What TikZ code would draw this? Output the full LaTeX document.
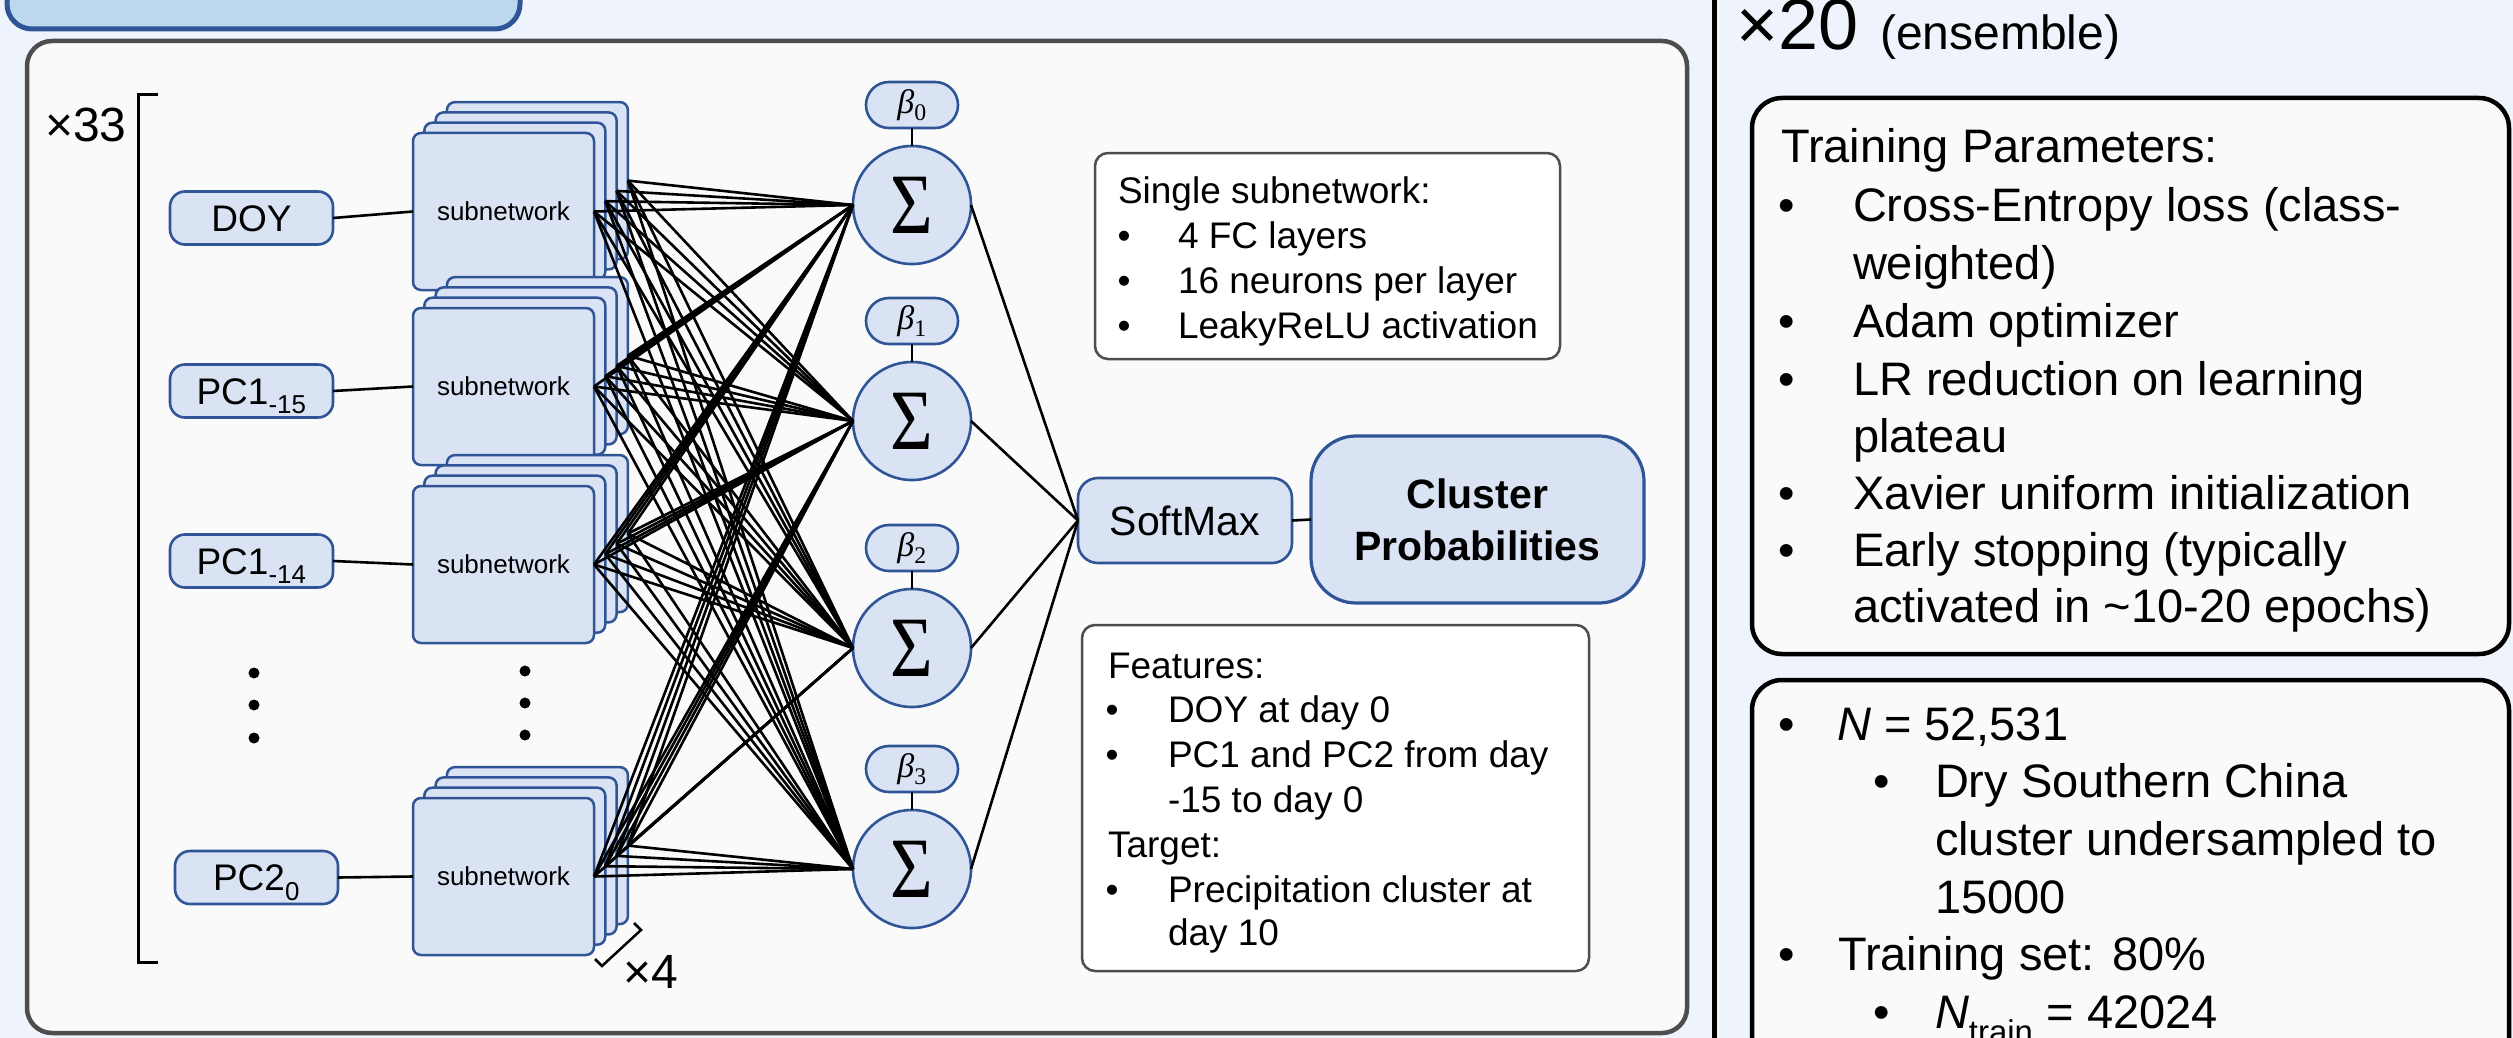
\documentclass[tikz,border=0pt]{standalone}
\usepackage{fontspec}
\setmainfont{Liberation Sans}
\newfontfamily\grserif{Liberation Serif}
\usepackage{graphicx}
\definecolor{bgblue}{HTML}{EFF4FC}
\definecolor{panelfill}{HTML}{FAFAFA}
\definecolor{nfill}{HTML}{DAE3F3}
\definecolor{nborder}{HTML}{2F5597}
\definecolor{topfill}{HTML}{BDD7EE}
\definecolor{pborder}{HTML}{4D4D4D}
\begin{document}
\begin{tikzpicture}[x=1pt,y=-1pt,
  inbox/.style={draw=nborder, fill=nfill, line width=2.6pt, rounded corners=15pt, minimum width=163pt, minimum height=53pt, inner sep=0pt, outer sep=0pt, text height=26.5pt, text depth=0pt, font=\fontsize{37}{44}\selectfont},
  layerbox/.style={draw=nborder, fill=nfill, line width=2.5pt, rounded corners=8pt, minimum width=181pt, minimum height=157pt, inner sep=0pt, outer sep=0pt, font=\fontsize{26}{30}\selectfont},
  sigmanode/.style={circle, draw=nborder, fill=nfill, line width=2.6pt, minimum size=118pt, inner sep=0pt, outer sep=0pt, font=\fontsize{86}{86}\selectfont\grserif},
  betanode/.style={draw=nborder, fill=nfill, line width=2.6pt, rounded corners=22.9pt, minimum width=92pt, minimum height=46pt, inner sep=0pt, outer sep=0pt, font=\fontsize{34}{34}\selectfont\grserif},
  conn/.style={line width=2.6pt, black},
  txt/.style={anchor=base west, inner sep=0pt, outer sep=0pt},
  ib/.style={txt, font=\fontsize{37}{45}\selectfont},
  tb/.style={txt, font=\fontsize{47}{57.5}\selectfont},
  bigtxt/.style={txt, font=\fontsize{48}{48}\selectfont}
]
\useasboundingbox (0,0) rectangle (2513,1038);
\clip (0,0) rectangle (2513,1038);
\fill[bgblue] (0,0) rectangle (2513,1038);

% top-left box (cropped)
\draw[draw=nborder, fill=topfill, line width=5pt, rounded corners=25pt] (7,-60) rectangle (520,29);

% main panel
\draw[draw=pborder, fill=panelfill, line width=4.5pt, rounded corners=25pt] (27,41) rectangle (1687,1033);

% divider
\draw[line width=5pt] (1714.5,-5) -- (1714.5,1045);

% right boxes
\draw[draw=black, fill=panelfill, line width=4.5pt, rounded corners=30pt] (1752,98) rectangle (2509,654);
\draw[draw=black, fill=panelfill, line width=4.5pt, rounded corners=30pt] (1752,680) rectangle (2509,1130);

% info boxes
\draw[draw=pborder, fill=white, line width=2.5pt, rounded corners=13pt] (1095,153) rectangle (1560,359);
\draw[draw=pborder, fill=white, line width=2.5pt, rounded corners=13pt] (1082,625) rectangle (1589,971);

% x33 bracket
\draw[line width=3pt] (158,95) -- (138,95) -- (138,962) -- (158,962);
\node[bigtxt] (x33) at (45,142) {×33};

% dots
\foreach \y in {673,705,738} \fill (254,\y) circle[radius=5.5pt];
\foreach \y in {671,703,735} \fill (525,\y) circle[radius=5.5pt];

% inputs
\node[inbox] (doy) at (251.5,218) {DOY};
\node[inbox] (pca) at (251.5,391) {PC1\textsubscript{-15}};
\node[inbox] (pcb) at (251.5,561) {PC1\textsubscript{-14}};
\node[inbox] (pcc) at (256.5,877.5) {PC2\textsubscript{0}};

% subnetwork stacks
\foreach \s/\cy in {1/211.5, 2/386.5, 3/564.5, 4/876.5} {
  \foreach \l in {3,2,1} {
    \node[layerbox] (L\s\l) at ({503.5+11.3*\l},{\cy-10.3*\l}) {};
  }
  \node[layerbox] (L\s0) at (503.5,\cy) {subnetwork};
}

% x4 bracket
\draw[line width=2.5pt] (595,959) -- (602,966) -- (641,930) -- (634,923);
\node[bigtxt] (x4) at (623,988) {×4};

% sigma and beta nodes
\foreach \k/\y in {0/205, 1/421, 2/648, 3/869} {
  \node[sigmanode] (sig\k) at (912,\y) {\scalebox{0.85}[1]{Σ}};
  \node[betanode] (beta\k) at (912,{\y-100}) {\textit{β}\textsubscript{\k}};
}

% softmax and output
\node[draw=nborder, fill=nfill, line width=2.6pt, rounded corners=20pt, minimum width=214pt, minimum height=85pt, inner sep=0pt, outer sep=0pt, text height=29.5pt, text depth=0pt, font=\fontsize{41}{41}\selectfont] (soft) at (1185,520.5) {SoftMax};
\node[draw=nborder, fill=nfill, line width=3.2pt, rounded corners=45pt, minimum width=333pt, minimum height=167pt, inner sep=0pt, outer sep=0pt, align=center, font=\fontsize{41}{52}\selectfont\bfseries] (clus) at (1477.5,519.5) {Cluster\\Probabilities};

% connectors
\draw[conn] (doy.east) -- (L10.west);
\draw[conn] (pca.east) -- (L20.west);
\draw[conn] (pcb.east) -- (L30.west);
\draw[conn] (pcc.east) -- (L40.west);
\foreach \s in {1,2,3,4} {
  \foreach \l in {0,1,2,3} {
    \foreach \k in {0,1,2,3} {
      \draw[conn] (L\s\l.east) -- (sig\k.west);
    }
  }
}
\foreach \k in {0,1,2,3} {
  \draw[conn] (beta\k.south) -- (sig\k.north);
  \draw[conn] (sig\k.east) -- (soft.west);
}
\draw[conn] (soft.east) -- (clus.west);

% single subnetwork text
\node[ib] (ssh) at (1118,203) {Single subnetwork:};
\node[ib] (ssb1) at (1117.5,248) {\textbullet};
\node[ib] (sst1) at (1178,248) {4 FC layers};
\node[ib] (ssb2) at (1117.5,293) {\textbullet};
\node[ib] (sst2) at (1178,293) {16 neurons per layer};
\node[ib] (ssb3) at (1117.5,338) {\textbullet};
\node[ib] (sst3) at (1178,338) {LeakyReLU activation};

% features text
\node[ib] (ffh) at (1108,678) {Features:};
\node[ib] (ffb1) at (1105.5,722) {\textbullet};
\node[ib] (fft1) at (1168,722) {DOY at day 0};
\node[ib] (ffb2) at (1105.5,767) {\textbullet};
\node[ib] (fft2) at (1168,767) {PC1 and PC2 from day};
\node[ib] (fft3) at (1168,812) {-15 to day 0};
\node[ib] (fth) at (1108,857) {Target:};
\node[ib] (ftb1) at (1105.5,902) {\textbullet};
\node[ib] (ftt1) at (1168,902) {Precipitation cluster at};
\node[ib] (ftt2) at (1168,945) {day 10};

% right panel
\node[txt, font=\fontsize{72}{72}\selectfont] (x20) at (1736,50) {×20};
\node[txt, font=\fontsize{48}{48}\selectfont] (ens) at (1880,50) {(ensemble)};

\node[tb] (tph) at (1781,162) {Training Parameters:};
\node[tb] (tpb1) at (1778,221) {\textbullet};
\node[tb] (tpt1) at (1853,221) {Cross-Entropy loss (class-};
\node[tb] (tpt1b) at (1853,279) {weighted)};
\node[tb] (tpb2) at (1778,337) {\textbullet};
\node[tb] (tpt2) at (1853,337) {Adam optimizer};
\node[tb] (tpb3) at (1778,395) {\textbullet};
\node[tb] (tpt3) at (1853,395) {LR reduction on learning};
\node[tb] (tpt3b) at (1853,452) {plateau};
\node[tb] (tpb4) at (1778,509) {\textbullet};
\node[tb] (tpt4) at (1853,509) {Xavier uniform initialization};
\node[tb] (tpb5) at (1778,566) {\textbullet};
\node[tb] (tpt5) at (1853,566) {Early stopping (typically};
\node[tb] (tpt5b) at (1853,622) {activated in \textasciitilde10-20 epochs)};

\node[tb] (nb1) at (1778,740) {\textbullet};
\node[tb] (nt1) at (1837,740) {\textit{N} = 52,531};
\node[tb] (nb2) at (1873,797) {\textbullet};
\node[tb] (nt2) at (1935,797) {Dry Southern China};
\node[tb] (nt2b) at (1935,855) {cluster undersampled to};
\node[tb] (nt2c) at (1935,913) {15000};
\node[tb] (nb3) at (1778,970) {\textbullet};
\node[tb] (nt3) at (1838,970) {Training set: 80\%};
\node[tb] (nb4) at (1873,1028) {\textbullet};
\node[tb] (nt4) at (1935,1028) {\textit{N}\textsubscript{train} = 42024};
\end{tikzpicture}
\end{document}
